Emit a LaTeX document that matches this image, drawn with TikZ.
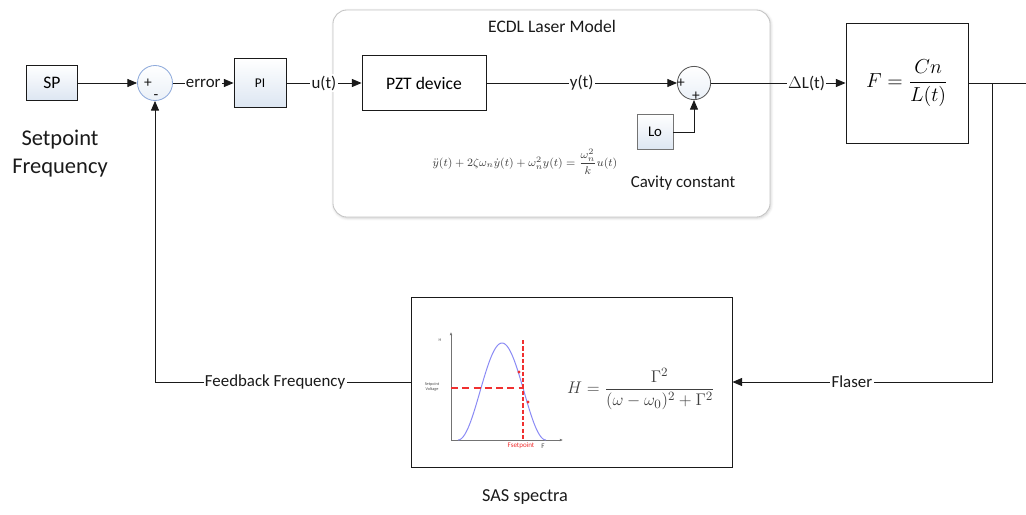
\documentclass[tikz,border=0pt]{standalone}
\usepackage{amsmath}
\usepackage{fontspec}
\setmainfont{Carlito}
\usepackage{tikz}
\usetikzlibrary{positioning, arrows.meta, shadows.blur}
\definecolor{ink}{HTML}{1A1A1A}
\definecolor{sumblue}{HTML}{8EAADB}
\definecolor{boxblue}{HTML}{DCE6F2}
\definecolor{panelgray}{HTML}{C4C4C4}
\definecolor{curveblue}{HTML}{8A8AF5}
\definecolor{dashred}{HTML}{F03030}
\definecolor{mathgray}{HTML}{404040}
\tikzset{
  srcbox/.style  = {rectangle, draw=ink, line width=0.6pt, top color=white,
                    bottom color=boxblue, inner sep=0pt, align=center,
                    font=\fontsize{12.5}{15}\selectfont},
  block/.style   = {rectangle, draw=ink, line width=0.6pt, fill=white,
                    inner sep=0pt, align=center, font=\fontsize{12.5}{15}\selectfont},
  panel/.style   = {rectangle, rounded corners=10pt, draw=panelgray, line width=0.6pt,
                    fill=white, blur shadow={shadow xshift=0.6pt, shadow yshift=-0.8pt,
                    shadow opacity=20, shadow blur steps=4}},
  sumnode/.style = {circle, line width=0.6pt, top color=white, bottom color=boxblue!60,
                    inner sep=0pt},
  sign/.style    = {inner sep=0pt, font=\fontsize{11}{12}\selectfont, text=ink},
  lbl/.style     = {fill=white, inner sep=1pt, font=\fontsize{12}{14}\selectfont, text=ink},
  txt/.style     = {inner sep=0pt, align=center, font=\fontsize{12.5}{15}\selectfont, text=ink},
  tiny/.style    = {inner sep=0pt, align=center, font=\fontsize{3}{3.4}\selectfont, text=black!70},
  ar/.style      = {-{Triangle[length=2.4mm,width=2mm]}, line width=0.6pt, draw=ink},
  ln/.style      = {line width=0.6pt, draw=ink},
  axis/.style    = {-{Latex[length=0.8mm,width=0.7mm]}, line width=0.5pt, draw=black!55},
  reddash/.style = {line width=0.9pt, draw=dashred},
}

\begin{document}
\begin{tikzpicture}[x=0.025cm, y=-0.025cm]
  \useasboundingbox (0,0) rectangle (1026,514);

  % laser model panel
  \node[panel, minimum width=10.925cm, minimum height=5.175cm] (ecdl) at (551.5,113.5) {};
  \node[txt] (ecdlname) at (552,26) {ECDL Laser Model};

  % forward path
  \node[srcbox, minimum width=1.275cm, minimum height=0.875cm] (sp) at (52,83) {SP};
  \node[txt, font=\fontsize{16}{20}\selectfont] (spname) at (60,154) {Setpoint\\Frequency};
  \node[sumnode, draw=sumblue, minimum size=0.875cm] (sum1) at (155,83) {};
  \node[sign] (sum1p) at (148,83) {+};
  \node[sign] (sum1m) at (156,97) {-};
  \node[srcbox, minimum width=1.3cm, minimum height=1.225cm,
        font=\fontsize{9.5}{11}\selectfont] (pi) at (260,83) {PI};
  \node[block, minimum width=3.1cm, minimum height=1.375cm] (pzt) at (424,83) {PZT device};
  \node[sumnode, draw=black!65, minimum size=0.83cm] (sum2) at (694,83) {};
  \node[sign] (sum2a) at (681,83) {+};
  \node[sign] (sum2b) at (696,96) {+};
  \node[srcbox, draw=black!55, minimum width=0.9cm, minimum height=0.875cm,
        font=\fontsize{10.5}{12}\selectfont] (lo) at (655,132) {Lo};
  \node[inner sep=0pt, text=mathgray, font=\fontsize{7.9}{9}\selectfont] (ode) at (525,162)
       {$\ddot{y}(t)+2\zeta\omega_n\dot{y}(t)+\omega_n^2y(t)=\dfrac{\omega_n^2}{k}u(t)$};
  \node[txt, font=\fontsize{12}{14}\selectfont] (cavity) at (683,183) {Cavity constant};
  \node[block, minimum width=3.05cm, minimum height=3cm, font=\fontsize{14}{16}\selectfont]
       (fmap) at (907,83) {$\displaystyle F=\frac{Cn}{L(t)}$};
  \coordinate (split) at (992,83);
  \coordinate (outR) at (1026,83);

  % feedback path
  \node[block, minimum width=8.025cm, minimum height=4.25cm] (sas) at (571.5,382) {};
  \node[txt, font=\fontsize{13}{15}\selectfont] (sasname) at (525,497) {SAS spectra};
  \node[inner sep=0pt, text=mathgray, font=\fontsize{12.5}{15}\selectfont] (lorentz) at (641,389)
       {$H=\dfrac{\Gamma^2}{(\omega-\omega_0)^2+\Gamma^2}$};

  \draw[ar] (sp) -- (sum1);
  \draw[ar] (sum1) -- node[lbl]{error} (pi);
  \draw[ar] (pi) -- node[lbl]{u(t)} (pzt);
  \draw[ar] (pzt) -- node[lbl]{y(t)} (sum2);
  \draw[ar] (lo) -| (sum2);
  \draw[ar] (sum2) -- node[lbl, pos=0.71]{$\Delta$L(t)} (fmap);
  \draw[ln] (fmap) -- (outR);
  \draw[ar] (split) |- node[lbl, pos=0.77]{Flaser} (sas);
  \draw[ar] (sas) -- node[lbl, pos=0.53]{Feedback Frequency} (sas.west -| sum1.south) -- (sum1);

  % spectrum sketch
  \draw[axis] (451,440) -- (563,440);
  \draw[axis] (451,440) -- (451,332);
  \draw[curveblue, line width=0.7pt] plot[domain=458:546, samples=80, smooth]
       (\x, {440-97*(0.5+0.5*cos(180*(\x-502)/44))});
  \draw[reddash, dash pattern=on 3pt off 1.5pt] (523,340) -- (523,440);
  \draw[reddash, dash pattern=on 5pt off 3pt] (451,388) -- (523,388);
  \fill[dashred] (519,372) circle (1.6);
  \fill[dashred] (528,402) circle (1.6);
  \node[tiny] (hlab) at (440,340) {H};
  \node[tiny] (vlab) at (432,387) {Setpoint\\Voltage};
  \node[tiny, font=\fontsize{5}{6}\selectfont, text=dashred] (flab) at (521,446) {Fsetpoint};
  \node[tiny, font=\fontsize{5}{6}\selectfont] (xlab) at (543,446) {F};
\end{tikzpicture}
\end{document}
